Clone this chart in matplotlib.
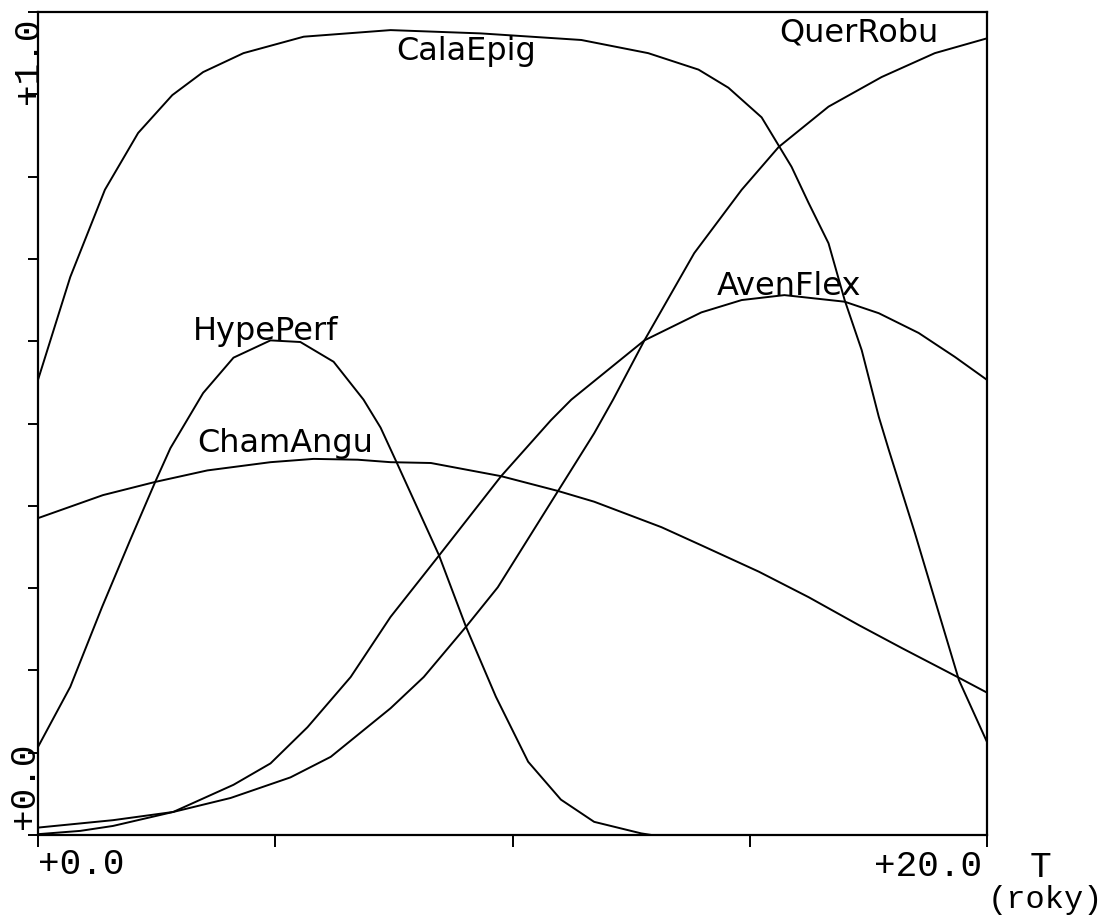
import matplotlib
matplotlib.use("Agg")
import matplotlib.pyplot as plt

# cas T (roky) a hodnoty krivek
cala_t = [0.0, 0.68, 1.41, 2.11, 2.83, 3.48, 4.33, 5.60, 7.43, 9.33, 11.45, 12.86, 13.92,
          14.55, 15.25, 15.88, 16.24, 16.66, 17.00, 17.36, 17.72, 17.93, 18.48, 18.90, 19.41, 20.0]
cala_v = [0.553, 0.678, 0.784, 0.853, 0.899, 0.927, 0.950, 0.970, 0.978, 0.974, 0.966, 0.950, 0.930,
          0.908, 0.872, 0.812, 0.768, 0.719, 0.650, 0.589, 0.508, 0.468, 0.367, 0.286, 0.188, 0.113]

hype_t = [0.0, 0.68, 1.35, 1.94, 2.47, 2.79, 3.48, 4.12, 4.90, 5.53, 6.23, 6.86, 7.22, 7.58,
          8.45, 9.02, 9.65, 10.33, 11.02, 11.72, 12.71, 12.93]
hype_v = [0.107, 0.180, 0.277, 0.358, 0.429, 0.470, 0.537, 0.580, 0.601, 0.599, 0.575, 0.529, 0.495, 0.450,
          0.340, 0.253, 0.168, 0.089, 0.043, 0.016, 0.002, 0.0]

cham_t = [0.0, 1.37, 2.47, 3.57, 4.90, 5.81, 6.74, 7.43, 8.28, 9.76, 10.96, 11.72, 13.14,
          13.98, 15.19, 16.24, 17.30, 18.21, 19.41, 20.0]
cham_v = [0.385, 0.413, 0.429, 0.443, 0.453, 0.457, 0.456, 0.453, 0.452, 0.436, 0.418, 0.405, 0.374,
          0.352, 0.320, 0.289, 0.255, 0.227, 0.191, 0.173]

aven_t = [0.0, 0.89, 1.58, 2.85, 4.12, 4.90, 5.68, 6.59, 7.43, 8.43, 9.76, 10.81, 11.24, 12.78,
          13.98, 14.83, 15.73, 17.00, 17.72, 18.56, 19.32, 20.0]
aven_v = [0.001, 0.005, 0.011, 0.028, 0.061, 0.087, 0.131, 0.192, 0.265, 0.338, 0.436, 0.504, 0.529, 0.601,
          0.635, 0.650, 0.656, 0.648, 0.634, 0.610, 0.581, 0.553]

quer_t = [0.0, 1.58, 2.85, 4.06, 5.32, 6.17, 7.43, 8.13, 9.02, 9.69, 10.96, 11.72, 12.12, 12.78,
          13.83, 14.83, 15.61, 16.66, 17.78, 18.90, 20.0]
quer_v = [0.009, 0.018, 0.028, 0.045, 0.070, 0.095, 0.154, 0.192, 0.253, 0.301, 0.418, 0.488, 0.529, 0.601,
          0.707, 0.784, 0.836, 0.885, 0.921, 0.950, 0.968]

names = ["CalaEpig", "HypePerf", "ChamAngu", "AvenFlex", "QuerRobu"]
label_pos = [(7.54, 0.942), (3.27, 0.601), (3.36, 0.465), (14.30, 0.656), (15.63, 0.964)]

W, H = 1110, 917
fig = plt.figure(figsize=(W / 100, H / 100), dpi=100)
ax = fig.add_axes([38 / W, 1 - 835 / H, (987 - 38) / W, (835 - 12) / H])

for t, v in [(cala_t, cala_v), (hype_t, hype_v), (cham_t, cham_v), (aven_t, aven_v), (quer_t, quer_v)]:
    ax.plot(t, v, color="black", lw=1.4)

for name, (x, y) in zip(names, label_pos):
    ax.text(x, y, name, fontsize=23, family="DejaVu Sans", ha="left", va="baseline")

ax.set_xlim(0, 20)
ax.set_ylim(0, 1)
ax.set_xticks([0, 5, 10, 15, 20])
ax.set_yticks([i / 10 for i in range(11)])
ax.set_xticklabels([])
ax.set_yticklabels([])
ax.tick_params(axis="x", direction="out", length=8.5, width=1.4)
ax.tick_params(axis="y", direction="out", length=7, width=1.4)
for s in ax.spines.values():
    s.set_linewidth(1.6)

mono = "Liberation Mono"
fig.text(38 / W, 1 - 874 / H, "+0.0", family=mono, fontsize=26, ha="left", va="baseline")
fig.text(982 / W, 1 - 876 / H, "+20.0", family=mono, fontsize=26, ha="right", va="baseline")
fig.text(1040 / W, 1 - 877 / H, "T", family=mono, fontsize=26, ha="center", va="baseline")
fig.text(1045 / W, 1 - 908 / H, "(roky)", family=mono, fontsize=23, ha="center", va="baseline")
fig.text(24 / W, 1 - 829 / H, "+0.0", family=mono, fontsize=26, rotation=90, ha="center", va="bottom")
fig.text(28 / W, 1 - 18 / H, "+1.0", family=mono, fontsize=26, rotation=90, ha="center", va="top")

fig.savefig("out.png", dpi=100)
